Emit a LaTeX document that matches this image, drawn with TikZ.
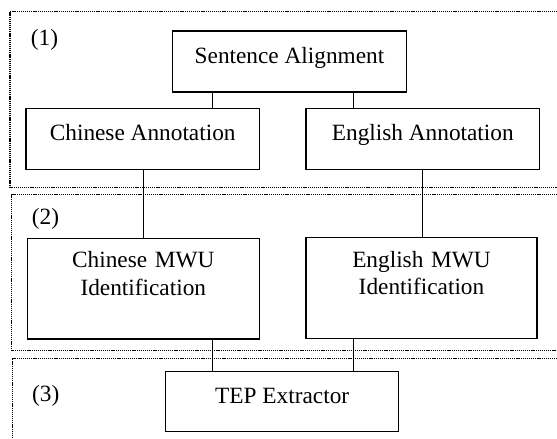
\documentclass[tikz,border=0pt]{standalone}
\usepackage{fontspec}
\setmainfont{Liberation Serif}
\begin{document}
\begin{tikzpicture}[x=1pt,y=-1pt,
  box/.style={draw, line width=1.4pt, inner sep=0pt, anchor=base,
    font=\fontsize{23.3}{27.3}\selectfont},
  onebox/.style={box, text height=32.3pt, text depth=28.5pt},
  twobox/.style={box, align=center, text height=29.4pt, text depth=71.3pt},
  conn/.style={line width=1pt},
  zone/.style={line width=1.3pt, dash pattern=on 1.2pt off 0.9pt, draw=black},
  tag/.style={inner sep=0pt, anchor=base west, font=\fontsize{23.3}{27.3}\selectfont}]
\useasboundingbox (0,0) rectangle (557,439);
\clip (0,0) rectangle (557,439);
% zones
\draw[zone] (570,11.7) -- (10,11.7) -- (10,187.3) -- (570,187.3);
\draw[zone] (570,194.3) -- (11.5,194.3) -- (11.5,350.7) -- (570,350.7);
\draw[zone] (570,358.3) -- (12.3,358.3) -- (12.3,445);
\node[tag] (t1) at (30.7,45.8) {(1)};
\node[tag] (t2) at (31.7,224.5) {(2)};
\node[tag] (t3) at (32,401) {(3)};
% boxes
\node[onebox, minimum width=233.6pt] (sa) at (289.5,63.3) {Sentence Alignment};
\node[onebox, minimum width=233.3pt] (ca) at (142.7,140.8) {Chinese Annotation};
\node[onebox, minimum width=233.7pt] (ea) at (422.8,140.8) {English Annotation};
\node[twobox, text width=232pt] (cm) at (143.3,267.7) {Chinese MWU\hspace*{11pt}\\Identification\hspace*{11pt}};
\node[twobox, text width=231pt] (em) at (421.5,267) {English MWU\hspace*{11pt}\\Identification\hspace*{11pt}};
\node[box, text height=31.3pt, text depth=28.7pt, minimum width=233pt] (tep) at (282.2,403) {TEP Extractor};
% connector columns
\coordinate (xa) at (212.7,0);
\coordinate (xb) at (353,0);
\coordinate (xc) at (143.3,0);
\coordinate (xd) at (422.7,0);
\draw[conn] (sa.south -| xa) -- (ca.north -| xa);
\draw[conn] (sa.south -| xb) -- (ea.north -| xb);
\draw[conn] (ca.south -| xc) -- (cm.north -| xc);
\draw[conn] (ea.south -| xd) -- (em.north -| xd);
\draw[conn] (cm.south -| xa) -- (tep.north -| xa);
\draw[conn] (em.south -| xb) -- (tep.north -| xb);
\end{tikzpicture}
\end{document}
